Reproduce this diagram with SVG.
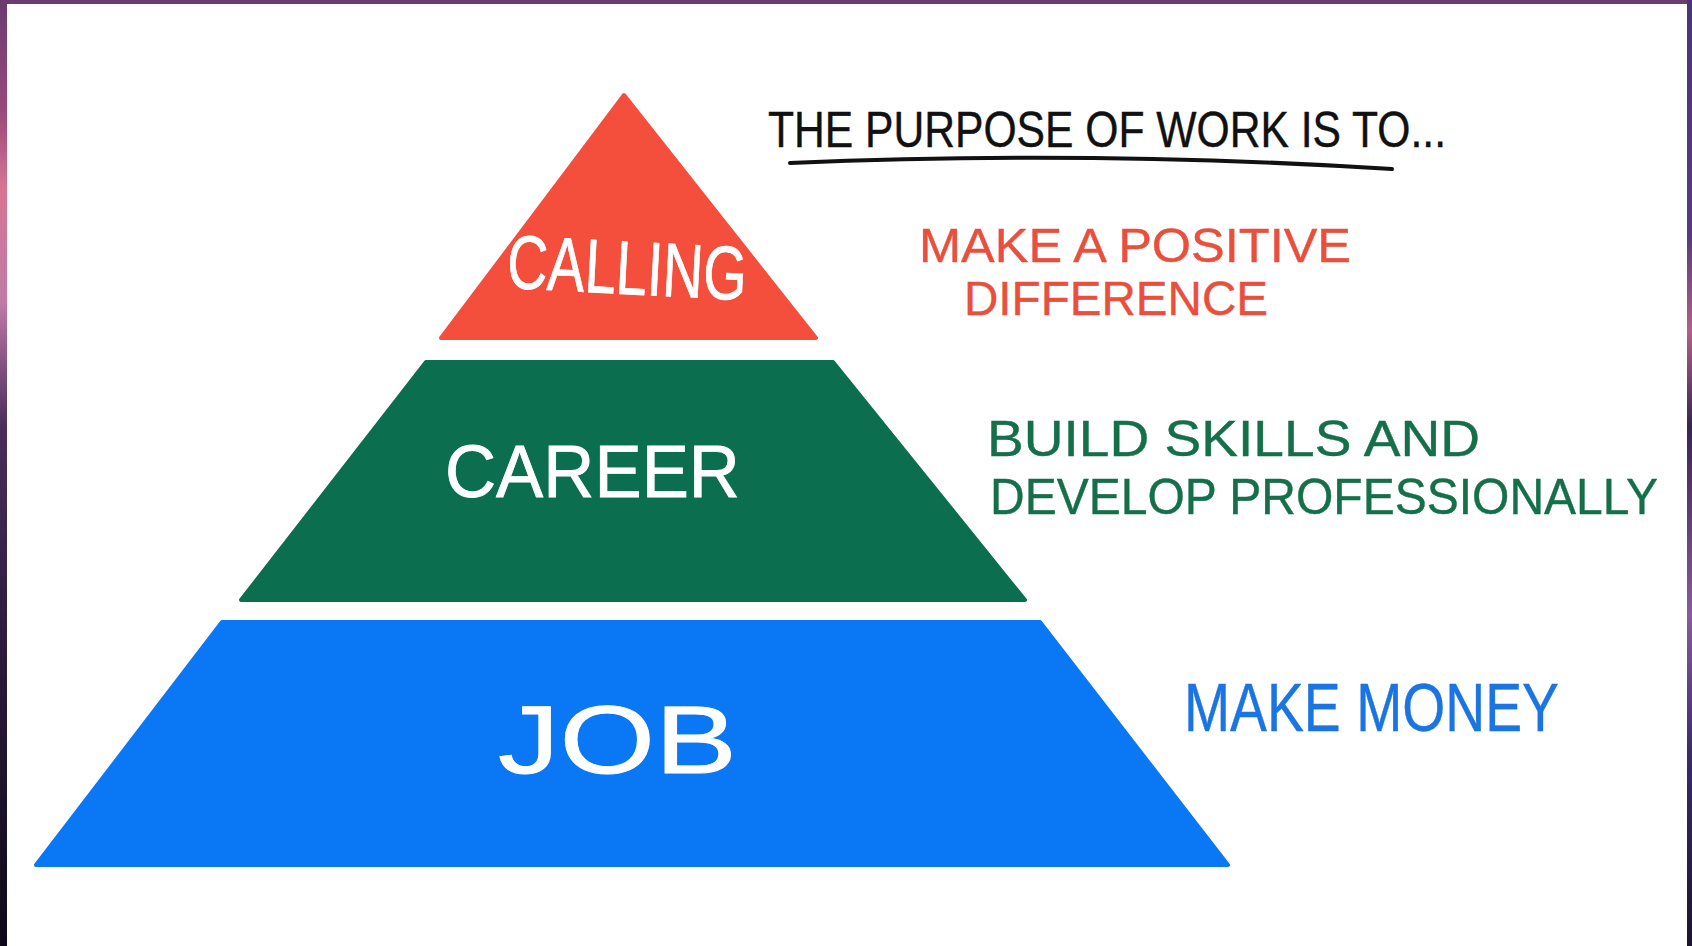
<svg xmlns="http://www.w3.org/2000/svg" width="1692" height="946" viewBox="0 0 1692 946">
  <defs>
    <linearGradient id="leftEdge" x1="0" y1="0" x2="0" y2="1">
      <stop offset="0" stop-color="#6a3a70"/>
      <stop offset="0.12" stop-color="#9a4a7c"/>
      <stop offset="0.2" stop-color="#d87592"/>
      <stop offset="0.32" stop-color="#c07aa8"/>
      <stop offset="0.45" stop-color="#4a2c5a"/>
      <stop offset="0.7" stop-color="#2a1a3c"/>
      <stop offset="1" stop-color="#0e0818"/>
    </linearGradient>
    <linearGradient id="rightEdge" x1="0" y1="0" x2="0" y2="1">
      <stop offset="0" stop-color="#4a3672"/>
      <stop offset="0.25" stop-color="#5a3a78"/>
      <stop offset="0.35" stop-color="#b0608a"/>
      <stop offset="0.45" stop-color="#3a2452"/>
      <stop offset="0.65" stop-color="#8a5a9a"/>
      <stop offset="0.8" stop-color="#3a2a66"/>
      <stop offset="1" stop-color="#1a1430"/>
    </linearGradient>
    <style>
      .tier { stroke-width: 4; stroke-linejoin: round; }
      .lbl { font-family: "Liberation Sans", "Open Sans", sans-serif; fill: #ffffff; stroke: #ffffff; stroke-width: 0.8; }
      .note { font-family: "Liberation Sans", "Open Sans", sans-serif; stroke-width: 0.4; }
    </style>
  </defs>

  <rect x="0" y="0" width="1692" height="946" fill="#ffffff"/>
  <rect x="0" y="0" width="1692" height="4" fill="#6a3c72"/>
  <rect x="0" y="0" width="7" height="946" fill="url(#leftEdge)"/>
  <rect x="1687" y="0" width="5" height="946" fill="url(#rightEdge)"/>

  <g id="tier-calling">
    <polygon class="tier" points="624,95 816,338 441,338" fill="#f44e3c" stroke="#f44e3c"/>
    <text class="lbl" x="507" y="294" font-size="76" textLength="240" lengthAdjust="spacingAndGlyphs" transform="rotate(3 627 270)">CALLING</text>
  </g>

  <g id="tier-career">
    <polygon class="tier" points="426,362 833,362 1025,600 241,600" fill="#0a6e4f" stroke="#0a6e4f"/>
    <text class="lbl" x="445" y="497" font-size="74" textLength="295" lengthAdjust="spacingAndGlyphs">CAREER</text>
  </g>

  <g id="tier-job">
    <polygon class="tier" points="222,622 1040,622 1228,865 36,865" fill="#0a78f5" stroke="#0a78f5"/>
    <text class="lbl" x="498" y="773" font-size="96" textLength="239" lengthAdjust="spacingAndGlyphs">JOB</text>
  </g>

  <g id="heading">
    <text class="note" x="768" y="147" font-size="50" fill="#111111" stroke="#111111" textLength="678" lengthAdjust="spacingAndGlyphs">THE PURPOSE OF WORK IS TO...</text>
    <path d="M790,163 Q1090,150 1392,169" fill="none" stroke="#111111" stroke-width="4" stroke-linecap="round"/>
  </g>

  <g id="note-calling">
    <text class="note" x="919" y="262" font-size="48" fill="#e8503d" stroke="#e8503d" textLength="432" lengthAdjust="spacingAndGlyphs">MAKE A POSITIVE</text>
    <text class="note" x="964" y="315" font-size="48" fill="#e8503d" stroke="#e8503d" textLength="304" lengthAdjust="spacingAndGlyphs">DIFFERENCE</text>
  </g>

  <g id="note-career">
    <text class="note" x="987" y="456" font-size="50" fill="#146f4a" stroke="#146f4a" textLength="493" lengthAdjust="spacingAndGlyphs">BUILD SKILLS AND</text>
    <text class="note" x="990" y="514" font-size="50" fill="#146f4a" stroke="#146f4a" textLength="668" lengthAdjust="spacingAndGlyphs">DEVELOP PROFESSIONALLY</text>
  </g>

  <g id="note-job">
    <text class="note" x="1184" y="731" font-size="68" fill="#1a74e2" stroke="#1a74e2" textLength="375" lengthAdjust="spacingAndGlyphs">MAKE MONEY</text>
  </g>

  <g id="connectors"></g>
</svg>
